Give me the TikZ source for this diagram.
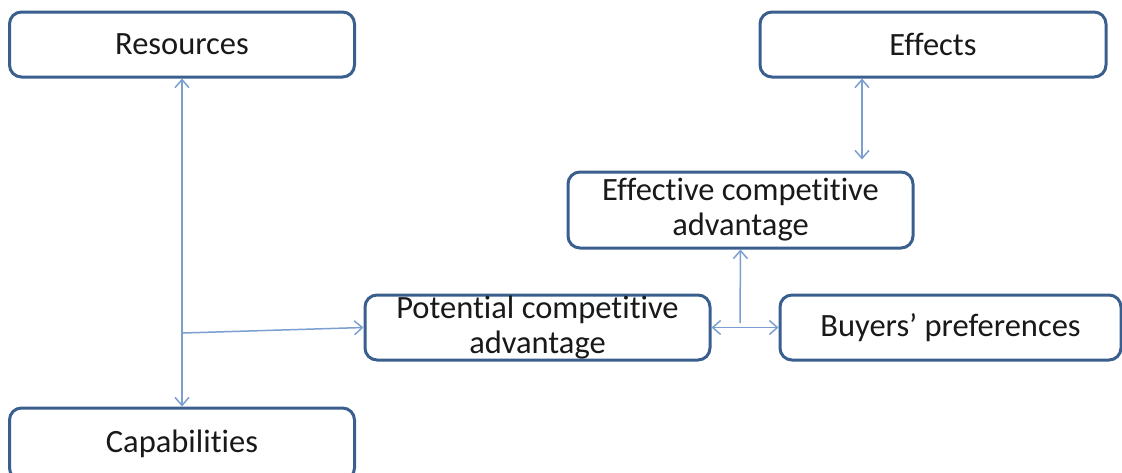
\documentclass[tikz,border=0pt]{standalone}
\usepackage{fontspec}
\setmainfont[Ligatures={NoCommon}]{Carlito}
\usetikzlibrary{arrows.meta}
\definecolor{boxc}{HTML}{3A5F8F}
\definecolor{arrc}{HTML}{7A9FD0}
\begin{document}
\begin{tikzpicture}[x=1pt,y=-1pt,
  box/.style={draw=boxc,line width=3pt,rounded corners=12pt,fill=white,
    inner sep=0pt,align=center,text=black!90,
    font=\fontsize{32.5}{35}\selectfont},
  conn/.style={draw=arrc,line width=1.5pt},
  barb/.tip={Straight Barb[length=8pt,width=14pt,line width=1.5pt]},
  tip/.style={-barb},
  dtip/.style={barb-barb}
]
\useasboundingbox (0,0) rectangle (1122,472);
\node[box,minimum width=345pt,minimum height=65pt] (res) at (182,44.5) {Resources};
\node[box,minimum width=346pt,minimum height=65pt] (eft) at (933,44.5) {Effects};
\node[box,minimum width=345pt,minimum height=76pt] (eff) at (740.5,210) {Effective competitive\\advantage};
\node[box,minimum width=345pt,minimum height=65pt] (pot) at (537.5,327.5) {Potential competitive\\advantage};
\node[box,minimum width=341pt,minimum height=65pt] (buy) at (950.5,327.5) {Buyers’ preferences};
\node[box,minimum width=345pt,minimum height=72pt] (cap) at (182,444) {\raisebox{4pt}{Capabilities}};
\coordinate (j) at (183,333);
\coordinate (k) at (740,323);
\coordinate (ex) at (862,0);
\draw[conn,dtip] (res.south) -- (cap.north);
\draw[conn,tip] (j) -- (pot.west);
\draw[conn,dtip] (pot.east) -- (buy.west);
\draw[conn,tip] (k) -- (eff.south);
\draw[conn,dtip,shorten >=11pt] (eft.south -| ex) -- (eff.north -| ex);
\end{tikzpicture}
\end{document}
